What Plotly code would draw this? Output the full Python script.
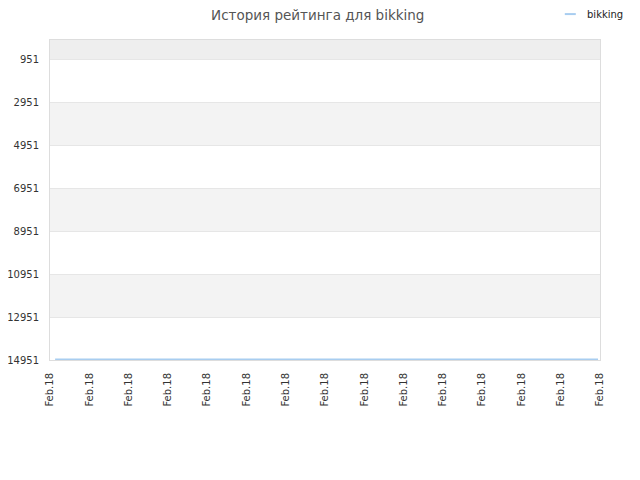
import plotly.graph_objects as go

# rating history data (flat line near the bottom)
dates = [0.13, 13.95]
rating = [14920, 14920]
tick_pos = list(range(15))
tick_labels = ['Feb.18'] * 15
y_ticks = [951, 2951, 4951, 6951, 8951, 10951, 12951, 14951]
series_name = 'bikking'
line_color = '#a8cdf0'

fig = go.Figure()

fig.add_trace(go.Scatter(
    x=dates, y=rating, name=series_name, mode='lines', showlegend=False,
    line=dict(color=line_color, width=1.5),
))

# alternating bands
shapes = []
bands = [(21, 951, '#eeeeee'), (2951, 4951, '#f3f3f3'), (6951, 8951, '#f3f3f3'), (10951, 12951, '#f3f3f3')]
for y0, y1, c in bands:
    shapes.append(dict(type='rect', xref='paper', yref='y', x0=0, x1=1, y0=y0, y1=y1,
                       fillcolor=c, line_width=0, layer='below'))

# small legend drawn by hand in the top-right corner
shapes.append(dict(type='line', xref='paper', yref='paper', x0=0.936, x1=0.956, y0=1.081, y1=1.081,
                   line=dict(color=line_color, width=2)))

fig.update_layout(
    width=640, height=480,
    margin=dict(l=42, r=48, t=32, b=128),
    paper_bgcolor='white', plot_bgcolor='white',
    font=dict(family='DejaVu Sans', size=10, color='#333'),
    title=dict(text='История рейтинга для bikking', x=0.484, xanchor='center', y=0.985, yanchor='middle',
               font=dict(size=13.5, color='#555')),
    shapes=shapes,
    annotations=[dict(text=series_name, xref='paper', yref='paper', x=0.973, y=1.081,
                      xanchor='left', yanchor='middle', showarrow=False,
                      font=dict(size=10, color='#222'))],
)

fig.update_xaxes(range=[0, 14], tickvals=tick_pos, ticktext=tick_labels, tickangle=-90,
                 showgrid=False, showline=True, linecolor='#ddd', mirror=True, automargin=False,
                 ticks='', ticklabelstandoff=8, zeroline=False,
                 tickfont=dict(size=10, color='#333'))
fig.update_yaxes(range=[14951, 21], autorange=False, tickvals=y_ticks,
                 ticktext=[str(v) for v in y_ticks], automargin=False,
                 showgrid=True, gridcolor='#e6e6e6', showline=True, linecolor='#ddd', mirror=True,
                 zeroline=False, ticks='', ticklabelstandoff=8, tickfont=dict(size=10, color='#333'))

fig.write_html('out.html')
